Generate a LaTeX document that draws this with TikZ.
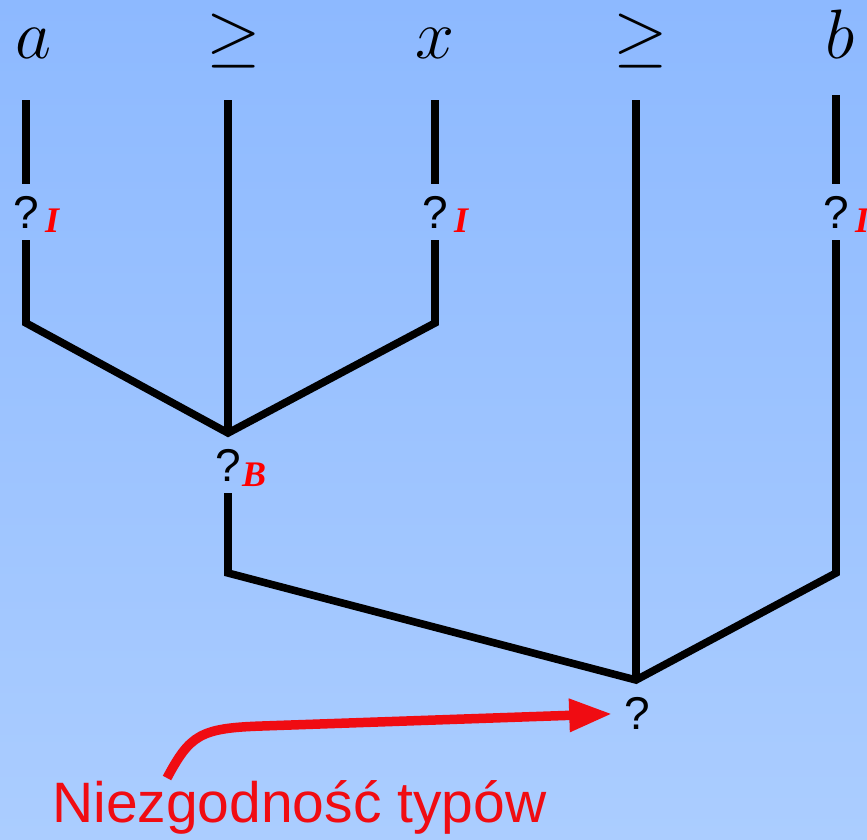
\documentclass[tikz,border=0pt]{standalone}
\usepackage{fix-cm}
\usepackage{fontspec}
\newfontfamily\helvfont{Liberation Sans}
\newfontfamily\timesfont{Liberation Serif}
\usetikzlibrary{arrows.meta}

\definecolor{bgtop}{RGB}{141,185,255}
\definecolor{bgbottom}{RGB}{171,205,255}
\definecolor{errred}{RGB}{240,12,18}

\begin{document}
\begin{tikzpicture}[
    x=1pt,y=-1pt,
    line cap=butt,
    line join=miter,
    leaf/.style={anchor=base, inner sep=0pt, font=\fontsize{70}{80}\selectfont},
    hole/.style={inner sep=0pt, outer sep=12pt, font=\helvfont\fontsize{46}{50}\selectfont},
    rulelab/.style={anchor=base west, inner sep=0pt, text=red,
        font=\timesfont\fontsize{36}{40}\selectfont\bfseries\itshape},
    treeedge/.style={draw=black, line width=7.6pt},
    errarrow/.style={
        draw=errred,
        line width=9.5pt,
        -{Triangle[length=43pt,width=31pt]}
    },
    errlab/.style={anchor=base west, inner sep=0pt, text=errred,
        font=\helvfont\fontsize{57}{64}\selectfont}
]

\useasboundingbox (0,0) rectangle (867,839);
\shade[top color=bgtop, bottom color=bgbottom] (0,0) rectangle (867,839);

% leaves
\node[leaf] (a)   at ( 33,58) {$a$};
\node[leaf] (ge1) at (234,58) {$\geq$};
\node[leaf] (x)   at (435,58) {$x$};
\node[leaf] (ge2) at (641,58) {$\geq$};
\node[leaf] (b)   at (840,58) {$b$};

\coordinate (atop)   at ( 26,100);
\coordinate (ge1top) at (228,100);
\coordinate (xtop)   at (435,100);
\coordinate (ge2top) at (636,100);
\coordinate (btop)   at (836, 95);

% holes
\node[hole] (aq) at ( 26,212) {?};
\node[hole] (xq) at (435,212) {?};
\node[hole] (bq) at (836,212) {?};
\node[hole] (Bq) at (228,465) {?};
\node[hole] (rootq) at (637,713) {?};

\node[rulelab] (aI) at ( 45,232) {I};
\node[rulelab] (xI) at (454,232) {I};
\node[rulelab] (bI) at (855,232) {I};
\node[rulelab] (BB) at (242,486) {B};

% corners and joins
\coordinate (acorn) at ( 26,323);
\coordinate (xcorn) at (435,323);
\coordinate (j1)    at (228,433);
\coordinate (Bcorn) at (228,573);
\coordinate (bcorn) at (836,573);
\coordinate (j2)    at (636,680);

\draw[treeedge] (atop) -- (aq);
\draw[treeedge] (xtop) -- (xq);
\draw[treeedge] (btop) -- (bq);
\draw[treeedge] (aq) -- (acorn) -- (j1) -- (xcorn) -- (xq);
\draw[treeedge] (ge1top) -- (j1);
\draw[treeedge] (Bq) -- (Bcorn) -- (j2) -- (bcorn) -- (bq);
\draw[treeedge] (ge2top) -- (j2);

% error
\node[errlab] (err) at (52,822) {Niezgodność typów};
\coordinate (errstart) at (167,778);
\draw[errarrow] (errstart) .. controls (190,735) and (200,728) .. (262,726) -- (rootq);
\end{tikzpicture}
\end{document}
